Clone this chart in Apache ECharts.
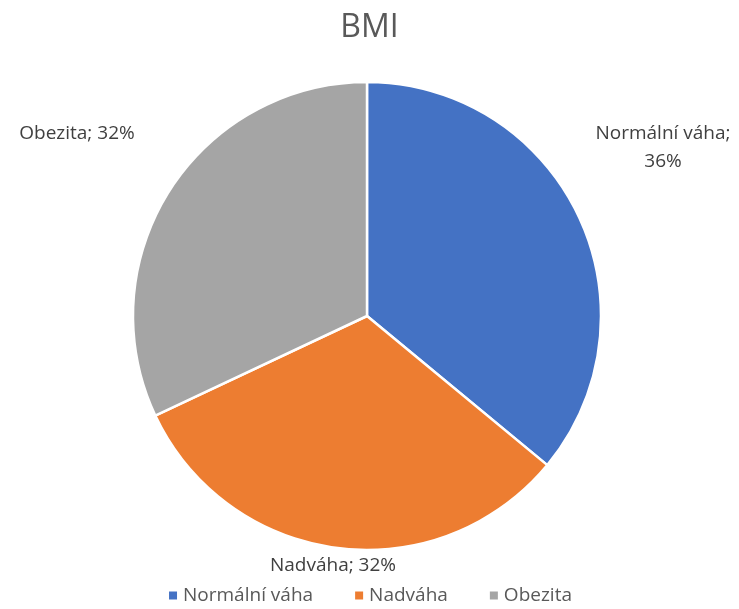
<!DOCTYPE html>
<html>
<head>
<meta charset="utf-8">
<script src="https://cdn.jsdelivr.net/npm/echarts@6/dist/echarts.min.js"></script>
<style>
  html, body { margin: 0; padding: 0; background: #fff; }
  #chart { width: 739px; height: 609px; }
</style>
</head>
<body>
<div id="chart"></div>
<script>
const categories = ['Normální váha', 'Nadváha', 'Obezita'];
const values = [36, 32, 32];
const colors = ['#4472C4', '#ED7D31', '#A5A5A5'];

// label anchors (text placement only)
const labelSpots = [
  { x: 663, y: 148, align: 'center' },
  { x: 333, y: 566, align: 'center' },
  { x: 77, y: 134, align: 'center' },
];
const labelTexts = ['Normální váha;\n36%', 'Nadváha; 32%', 'Obezita; 32%'];

const chart = echarts.init(document.getElementById('chart'), null, { renderer: 'canvas' });

chart.setOption({
  animation: false,
  textStyle: { fontFamily: 'Open Sans' },
  title: {
    text: 'BMI',
    left: 'center',
    top: 7,
    textStyle: { fontSize: 32, fontWeight: 'normal', color: '#595959', fontFamily: 'Open Sans' },
  },
  legend: {
    top: 586,
    left: 'center',
    padding: 0,
    icon: 'rect',
    itemWidth: 10,
    itemHeight: 10,
    itemGap: 40,
    textStyle: { fontSize: 19, color: '#595959', fontFamily: 'Open Sans' },
    data: categories,
  },
  series: [
    {
      type: 'pie',
      center: [367, 316],
      radius: 234,
      startAngle: 90,
      clockwise: true,
      data: categories.map((name, i) => ({
        name,
        value: values[i],
        itemStyle: { color: colors[i] },
      })),
      itemStyle: { borderColor: '#fff', borderWidth: 2.5 },
      label: {
        show: true,
        position: 'outside',
        formatter: (p) => labelTexts[p.dataIndex],
        fontSize: 19,
        lineHeight: 28,
        color: '#404040',
        fontFamily: 'Open Sans',
        align: 'center',
        overflow: 'none',
      },
      labelLine: { show: false },
      labelLayout: (params) => {
        const s = labelSpots[params.dataIndex];
        return { x: s.x, y: s.y, align: s.align, verticalAlign: 'middle' };
      },
      emphasis: { disabled: true },
    },
  ],
});
</script>
</body>
</html>
